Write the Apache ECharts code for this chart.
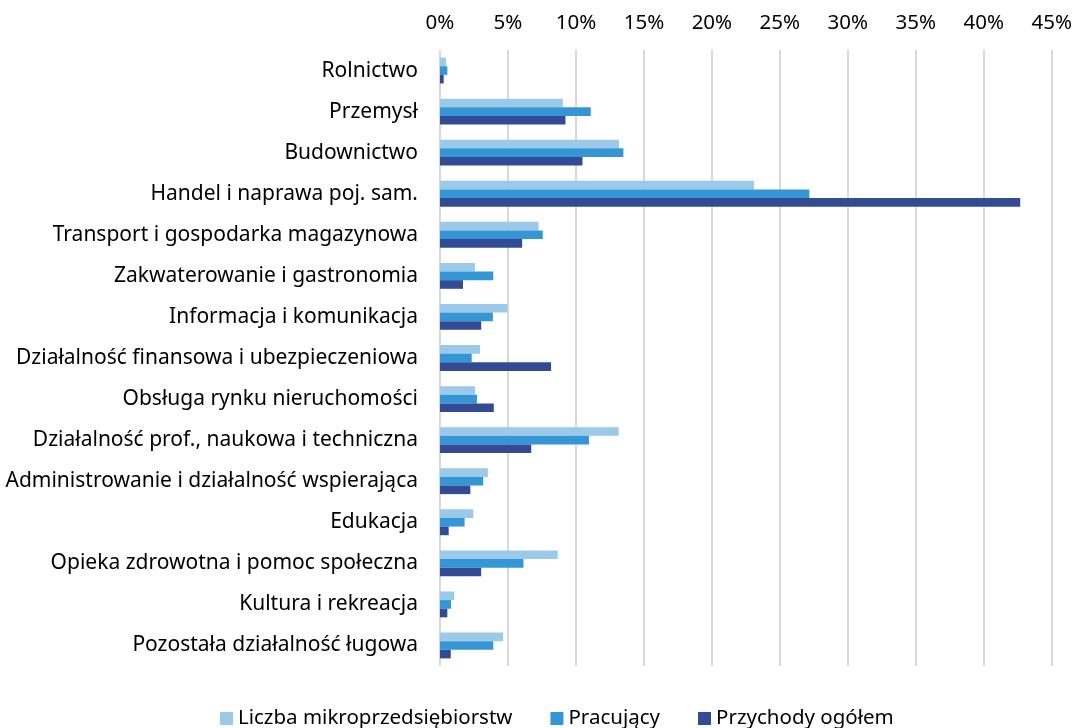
<!DOCTYPE html>
<html>
<head>
<meta charset="utf-8">
<script src="https://cdn.jsdelivr.net/npm/echarts@6/dist/echarts.min.js"></script>
<style>
html, body { margin: 0; padding: 0; background: #fff; }
#main { width: 1075px; height: 728px; }
</style>
</head>
<body>
<div id="main"></div>
<script>
// kategorie (od góry)
var categories = [
	'Rolnictwo',
	'Przemysł',
	'Budownictwo',
	'Handel i naprawa poj. sam.',
	'Transport i gospodarka magazynowa',
	'Zakwaterowanie i gastronomia',
	'Informacja i komunikacja',
	'Działalność finansowa i ubezpieczeniowa',
	'Obsługa rynku nieruchomości',
	'Działalność prof., naukowa i techniczna',
	'Administrowanie i działalność wspierająca',
	'Edukacja',
	'Opieka zdrowotna i pomoc społeczna',
	'Kultura i rekreacja',
	'Pozostała działalność ługowa'
];
var seriesNames = ['Liczba mikroprzedsiębiorstw', 'Pracujący', 'Przychody ogółem'];
var liczba = [0.44, 9.03, 13.17, 23.1, 7.25, 2.57, 4.97, 2.94, 2.57, 13.14, 3.52, 2.45, 8.66, 1.05, 4.65];
var pracujacy = [0.54, 11.09, 13.49, 27.17, 7.56, 3.92, 3.89, 2.33, 2.72, 10.96, 3.18, 1.81, 6.14, 0.81, 3.92];
var przychody = [0.27, 9.23, 10.48, 42.68, 6.04, 1.69, 3.03, 8.17, 3.96, 6.71, 2.23, 0.64, 3.03, 0.54, 0.79];
var xTicks = [0, 5, 10, 15, 20, 25, 30, 35, 40, 45];

var colors = ['#9AC9EA', '#3496D5', '#324B94'];
var font = 'Noto Sans';
var fs = 20.5;

var myChart = echarts.init(document.getElementById('main'));
var option = {
	animation : false,
	textStyle : { fontFamily : font },
	grid : {
		top : 50,
		bottom : 62,
		left : 440,
		right : 21
	},
	legend : {
		top : 703,
		left : 215,
		itemWidth : 13,
		itemHeight : 13,
		itemGap : 38,
		icon : 'rect',
		textStyle : { fontSize : fs, color : '#000', fontFamily : font },
		data : seriesNames
	},
	xAxis : {
		type : 'value',
		position : 'top',
		min : xTicks[0],
		max : xTicks[xTicks.length - 1],
		interval : 5,
		axisLine : { show : false },
		axisTick : { show : false },
		axisLabel : { formatter : '{value}%', fontSize : fs, color : '#000', margin : 16 },
		splitLine : { lineStyle : { color : '#d9d9d9', width : 2 } }
	},
	yAxis : {
		type : 'category',
		inverse : true,
		data : categories,
		axisLine : { show : false },
		axisTick : { show : false },
		axisLabel : { fontSize : 21, color : '#000', margin : 22 }
	},
	series : [
		{ name : seriesNames[0], type : 'bar', data : liczba, itemStyle : { color : colors[0] }, barGap : '0%', barCategoryGap : '37%' },
		{ name : seriesNames[1], type : 'bar', data : pracujacy, itemStyle : { color : colors[1] }, barGap : '0%', barCategoryGap : '37%' },
		{ name : seriesNames[2], type : 'bar', data : przychody, itemStyle : { color : colors[2] }, barGap : '0%', barCategoryGap : '37%' }
	]
};
myChart.setOption(option);
</script>
</body>
</html>
